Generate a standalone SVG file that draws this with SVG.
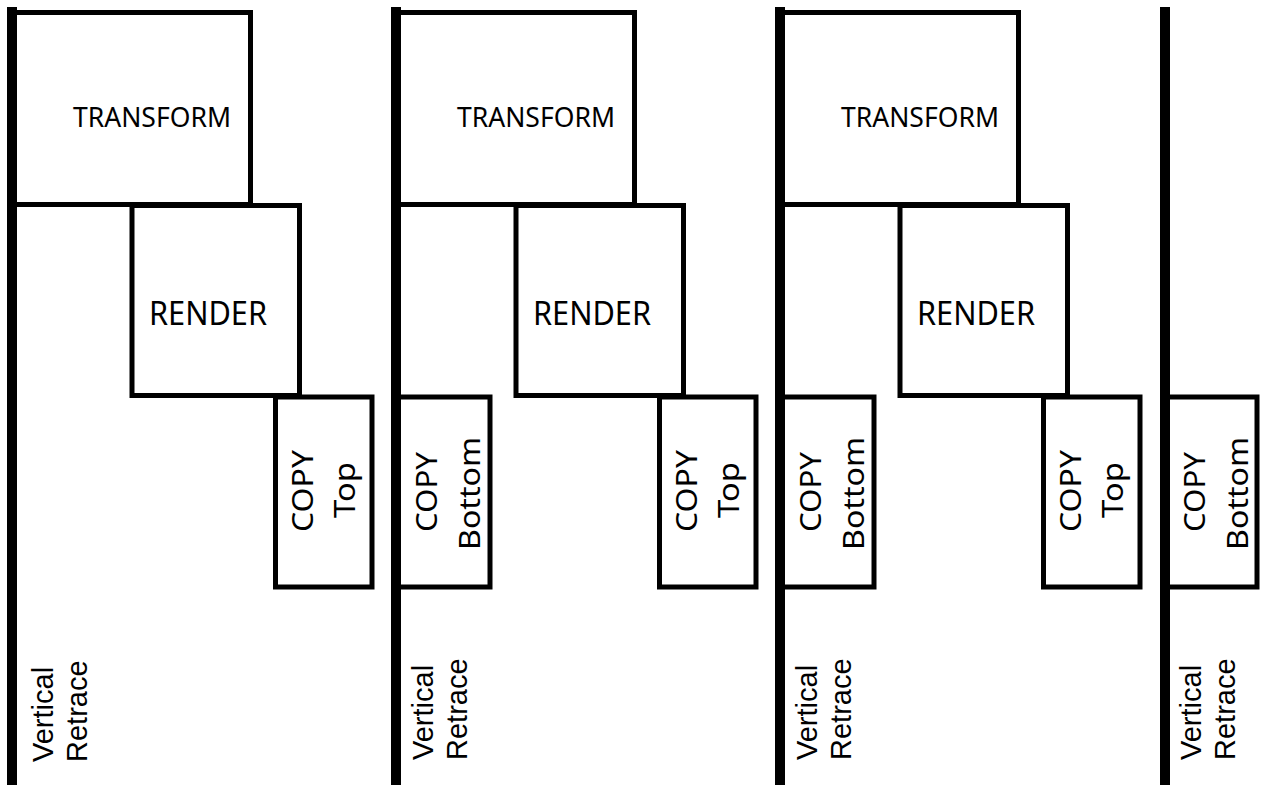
<svg xmlns="http://www.w3.org/2000/svg" width="1267" height="785" viewBox="0 0 1267 785">
<style>
.box{fill:#fff;stroke:#000;stroke-width:5}
.bar{stroke:#000;stroke-width:10;fill:none}
.lbl{font-family:"Noto Sans","Open Sans",sans-serif;fill:#000}
.vr{font-family:"Liberation Sans",Arial,sans-serif;font-size:29px;fill:#000}
</style>
<rect width="1267" height="785" fill="#fff"/>
<g id="p1-transform"><path class="box" d="M12,12.5 H250.5 V204.5 H12"/><text class="lbl" x="73" y="127" font-size="28" textLength="158" lengthAdjust="spacingAndGlyphs">TRANSFORM</text></g>
<g id="p1-render"><rect class="box" x="132" y="205.5" width="167.5" height="190"/><text class="lbl" x="149" y="325" font-size="32" textLength="118" lengthAdjust="spacingAndGlyphs">RENDER</text></g>
<g id="p1-copytop"><rect class="box" x="275.5" y="397" width="96.5" height="190"/><text class="lbl" font-size="29" text-anchor="middle" transform="translate(313,491) rotate(-90)" textLength="82" lengthAdjust="spacingAndGlyphs">COPY</text><text class="lbl" font-size="29" text-anchor="middle" transform="translate(355,490) rotate(-90)" textLength="56" lengthAdjust="spacingAndGlyphs">Top</text></g>
<g id="p2-copybottom"><rect class="box" x="396" y="397" width="94" height="190"/><text class="lbl" font-size="29" text-anchor="middle" transform="translate(437,492) rotate(-90)" textLength="80" lengthAdjust="spacingAndGlyphs">COPY</text><text class="lbl" font-size="29" text-anchor="middle" transform="translate(480,493.5) rotate(-90)" textLength="113" lengthAdjust="spacingAndGlyphs">Bottom</text></g>
<g id="p2-transform"><path class="box" d="M396,12.5 H634.5 V204.5 H396"/><text class="lbl" x="457" y="127" font-size="28" textLength="158" lengthAdjust="spacingAndGlyphs">TRANSFORM</text></g>
<g id="p2-render"><rect class="box" x="516" y="205.5" width="167.5" height="190"/><text class="lbl" x="533" y="325" font-size="32" textLength="118" lengthAdjust="spacingAndGlyphs">RENDER</text></g>
<g id="p2-copytop"><rect class="box" x="659.5" y="397" width="96.5" height="190"/><text class="lbl" font-size="29" text-anchor="middle" transform="translate(697,491) rotate(-90)" textLength="82" lengthAdjust="spacingAndGlyphs">COPY</text><text class="lbl" font-size="29" text-anchor="middle" transform="translate(739,490) rotate(-90)" textLength="56" lengthAdjust="spacingAndGlyphs">Top</text></g>
<g id="p3-copybottom"><rect class="box" x="780" y="397" width="94" height="190"/><text class="lbl" font-size="29" text-anchor="middle" transform="translate(821,492) rotate(-90)" textLength="80" lengthAdjust="spacingAndGlyphs">COPY</text><text class="lbl" font-size="29" text-anchor="middle" transform="translate(864,493.5) rotate(-90)" textLength="113" lengthAdjust="spacingAndGlyphs">Bottom</text></g>
<g id="p3-transform"><path class="box" d="M780,12.5 H1018.5 V204.5 H780"/><text class="lbl" x="841" y="127" font-size="28" textLength="158" lengthAdjust="spacingAndGlyphs">TRANSFORM</text></g>
<g id="p3-render"><rect class="box" x="900" y="205.5" width="167.5" height="190"/><text class="lbl" x="917" y="325" font-size="32" textLength="118" lengthAdjust="spacingAndGlyphs">RENDER</text></g>
<g id="p3-copytop"><rect class="box" x="1043.5" y="397" width="96.5" height="190"/><text class="lbl" font-size="29" text-anchor="middle" transform="translate(1081,491) rotate(-90)" textLength="82" lengthAdjust="spacingAndGlyphs">COPY</text><text class="lbl" font-size="29" text-anchor="middle" transform="translate(1123,490) rotate(-90)" textLength="56" lengthAdjust="spacingAndGlyphs">Top</text></g>
<g id="p4-copybottom"><rect class="box" x="1165" y="397" width="92" height="190"/><text class="lbl" font-size="29" text-anchor="middle" transform="translate(1205,492) rotate(-90)" textLength="80" lengthAdjust="spacingAndGlyphs">COPY</text><text class="lbl" font-size="29" text-anchor="middle" transform="translate(1248,493.5) rotate(-90)" textLength="113" lengthAdjust="spacingAndGlyphs">Bottom</text></g>
<g id="connectors">
<line class="bar" x1="12" y1="7" x2="12" y2="785"/>
<line class="bar" x1="396" y1="7" x2="396" y2="785"/>
<line class="bar" x1="780" y1="7" x2="780" y2="785"/>
<line class="bar" x1="1165" y1="7" x2="1165" y2="785"/>
</g>
<g id="retrace-labels">
<text class="vr" transform="translate(53,762) rotate(-90)">Vertical</text><text class="vr" transform="translate(87,762) rotate(-90)">Retrace</text>
<text class="vr" transform="translate(433,760) rotate(-90)">Vertical</text><text class="vr" transform="translate(467,760) rotate(-90)">Retrace</text>
<text class="vr" transform="translate(817,760) rotate(-90)">Vertical</text><text class="vr" transform="translate(851,760) rotate(-90)">Retrace</text>
<text class="vr" transform="translate(1201,760) rotate(-90)">Vertical</text><text class="vr" transform="translate(1235,760) rotate(-90)">Retrace</text>
</g>
</svg>
